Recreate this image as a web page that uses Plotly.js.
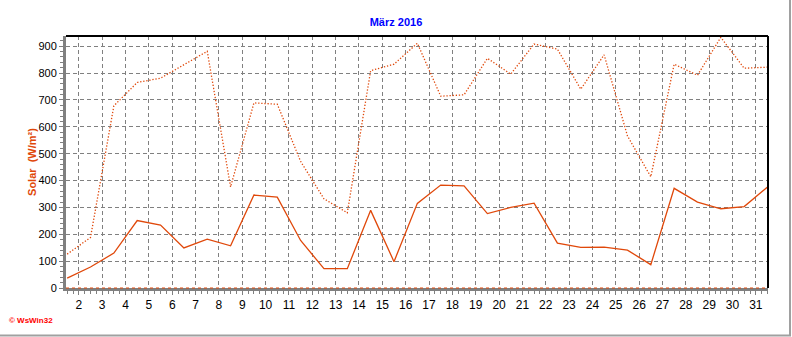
<!DOCTYPE html>
<html>
<head>
<meta charset="utf-8">
<script src="https://cdn.plot.ly/plotly-3.0.1.min.js"></script>
<style>
  html, body { margin: 0; padding: 0; background: #ffffff; }
  #chart { width: 792px; height: 337px; }
</style>
</head>
<body>
<div id="chart"></div>
<script>
// Day of month (values are plotted at midday of each day)
const days = [1,2,3,4,5,6,7,8,9,10,11,12,13,14,15,16,17,18,19,20,21,22,23,24,25,26,27,28,29,30,31];
// Daily mean solar radiation (W/m²) – solid line
const solarMean = [37, 78, 130, 251, 234, 149, 182, 157, 346, 338, 177, 72, 72, 289, 98, 315, 383, 380, 277, 300, 316, 167, 151, 152, 141, 87, 371, 320, 295, 303, 376];
// Daily maximum solar radiation (W/m²) – dotted line
const solarMax = [126, 188, 678, 765, 781, 832, 881, 376, 689, 684, 471, 332, 280, 809, 833, 911, 714, 719, 855, 796, 908, 889, 740, 868, 566, 414, 833, 792, 933, 818, 822];
// X tick labels
const xTickVals = [2,3,4,5,6,7,8,9,10,11,12,13,14,15,16,17,18,19,20,21,22,23,24,25,26,27,28,29,30,31];
const xTickText = xTickVals.map(String);

const xMid = days.map(d => d + 0.5);
const lineColor = '#E0480A';
const font = 'Liberation Sans, Arial, sans-serif';

const traces = [
  { x: xMid, y: solarMax, type: 'scatter', mode: 'lines', name: 'Max',
    line: { color: lineColor, width: 1.3, dash: '1.3px,1.8px' }, hoverinfo: 'x+y' },
  { x: xMid, y: solarMean, type: 'scatter', mode: 'lines', name: 'Mittel',
    line: { color: lineColor, width: 1.3 }, hoverinfo: 'x+y' }
];

const W = 702, H = 252, L = 66, T = 36;
const px = p => (p - L) / W;
const py = p => (T + H - p) / H;

const layout = {
  width: 792, height: 337,
  margin: { l: 66, r: 24, t: 36, b: 49 },
  paper_bgcolor: '#ffffff', plot_bgcolor: '#ffffff',
  showlegend: false,
  font: { family: font, size: 12, color: '#000000' },
  title: { text: 'März 2016', font: { family: font, size: 11, color: '#0000FF', weight: 'bold' },
           x: 0.5, xref: 'container', xanchor: 'center', y: 1 - 22/337, yref: 'container', yanchor: 'middle' },
  xaxis: {
    range: [1.45, 31.52], tickmode: 'array', tickvals: xTickVals, ticktext: xTickText,
    showgrid: true, gridcolor: '#808080', gridwidth: 1, griddash: '4px,3px',
    showline: true, linecolor: '#808080', linewidth: 3,
    ticks: 'outside', ticklen: 4, tickcolor: '#808080', tickwidth: 1,
    minor: { dtick: 0.25, tick0: 0, ticks: 'outside', ticklen: 3, tickcolor: '#808080', showgrid: false },
    tickfont: { family: font, size: 12, color: '#000000' },
    zeroline: false, fixedrange: true
  },
  yaxis: {
    range: [0, 938], tickmode: 'linear', tick0: 0, dtick: 100,
    showgrid: true, gridcolor: '#808080', gridwidth: 1, griddash: '4px,3px',
    showline: true, linecolor: '#808080', linewidth: 3,
    ticks: 'outside', ticklen: 4, tickcolor: '#808080', tickwidth: 1,
    minor: { dtick: 20, ticks: 'outside', ticklen: 3, tickcolor: '#808080', showgrid: false },
    tickfont: { family: font, size: 11, color: '#000000' },
    zeroline: false, fixedrange: true,
    title: { text: 'Solar  (W/m²)', standoff: 0, font: { family: font, size: 11, color: '#E0480A', weight: 'bold' } }
  },
  shapes: [
    // plot frame top and right (black)
    { type: 'line', xref: 'paper', yref: 'paper', x0: 0, x1: 1, y0: 1, y1: 1, line: { color: '#000000', width: 2 } },
    { type: 'line', xref: 'paper', yref: 'paper', x0: 1, x1: 1, y0: 0, y1: 1, line: { color: '#000000', width: 2 } },
    // orange dotted baseline along zero
    { type: 'line', xref: 'paper', yref: 'paper', x0: 0, x1: 1, y0: 0, y1: 0, line: { color: lineColor, width: 1, dash: 'dot' } },
    // outer picture border (right and bottom, gray)
    { type: 'line', xref: 'paper', yref: 'paper', x0: px(790), x1: px(790), y0: py(0), y1: py(336), line: { color: '#a0a0a0', width: 2 } },
    { type: 'line', xref: 'paper', yref: 'paper', x0: px(0), x1: px(791), y0: py(335.5), y1: py(335.5), line: { color: '#a0a0a0', width: 2 } }
  ],
  annotations: [
    { text: '© WsWin32', xref: 'paper', yref: 'paper', x: px(7), y: py(320), xanchor: 'left', yanchor: 'middle',
      showarrow: false, font: { family: font, size: 8, color: '#FF0000', weight: 'bold' } }
  ]
};

Plotly.newPlot('chart', traces, layout, { displayModeBar: false, staticPlot: true });
</script>
</body>
</html>
